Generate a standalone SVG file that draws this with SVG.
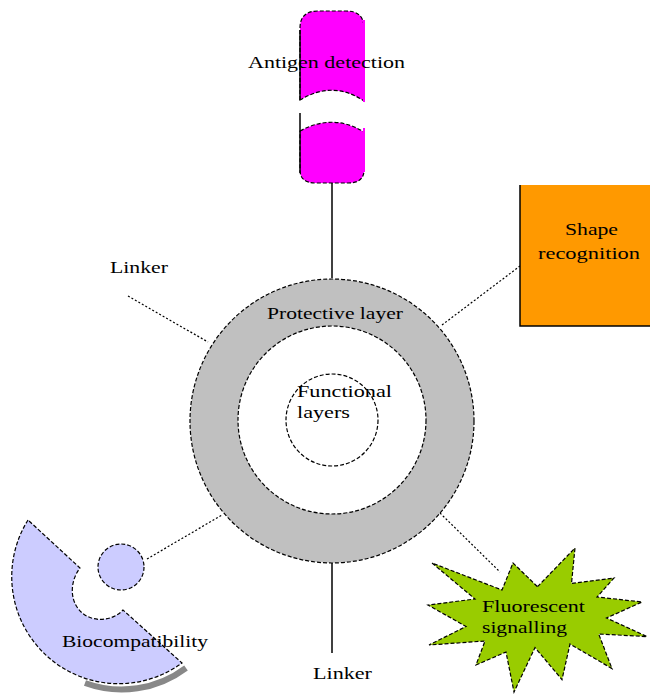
<svg xmlns="http://www.w3.org/2000/svg" width="650" height="694" viewBox="0 0 650 694">
<style>
  text { font-family: "Liberation Serif", "Times New Roman", serif; font-size: 17px; fill: #000; }
  .dash { stroke: #000; stroke-width: 1.2; stroke-dasharray: 4 2; }
  .dot { fill: none; stroke: #000; stroke-width: 1.2; stroke-dasharray: 2 2; }
  .solid { fill: none; stroke: #000; stroke-width: 1.5; }
</style>
<rect width="650" height="694" fill="#fff"/>

<g id="connectors">
  <line class="solid" x1="332" y1="183" x2="332" y2="278"/>
  <line class="solid" x1="332" y1="563" x2="332" y2="653"/>
  <line class="dot" x1="128" y1="296" x2="208" y2="342"/>
  <line class="dot" x1="442" y1="325" x2="520" y2="266"/>
  <line class="dot" x1="147" y1="559" x2="222" y2="515"/>
  <line class="dot" x1="440" y1="513" x2="500" y2="572"/>
</g>

<g id="ring">
  <circle cx="332" cy="421" r="142" fill="#c0c0c0" class="dash"/>
  <circle cx="332" cy="420" r="94" fill="#fff" class="dash"/>
  <text x="267" y="319" textLength="136" lengthAdjust="spacingAndGlyphs">Protective layer</text>
</g>

<g id="functional">
  <circle cx="332" cy="420" r="46" fill="none" class="dash"/>
  <text x="297" y="397" textLength="95" lengthAdjust="spacingAndGlyphs">Functional</text>
  <text x="297" y="418" textLength="53" lengthAdjust="spacingAndGlyphs">layers</text>
</g>

<g id="antigen">
  <path d="M300,100 L300,28 Q300,11 318,11 L346,11 Q364,11 364,28 L364,101 Q333,80 300,100 Z" fill="#ff00ff" class="dash"/>
  <path d="M300,131 Q333,113 364,132 L364,170 Q364,183 348,183 L316,183 Q300,183 300,170 Z" fill="#ff00ff" class="dash"/>
  <rect x="363" y="20" width="2" height="82" fill="#ff00ff"/>
  <rect x="363" y="128" width="2" height="44" fill="#ff00ff"/>
  <line class="solid" x1="300" y1="30" x2="300" y2="100"/>
  <line class="solid" x1="300" y1="113" x2="300" y2="173"/>
  <text x="248" y="68" textLength="157" lengthAdjust="spacingAndGlyphs">Antigen detection</text>
</g>

<g id="shape-recognition">
  <rect x="520" y="185" width="135" height="141" fill="#ff9900"/>
  <path d="M520,185 L520,326 L650,326" class="solid"/>
  <text x="565" y="235" textLength="53" lengthAdjust="spacingAndGlyphs">Shape</text>
  <text x="538" y="259" textLength="102" lengthAdjust="spacingAndGlyphs">recognition</text>
</g>

<g id="linker-top">
  <text x="110" y="273" textLength="58" lengthAdjust="spacingAndGlyphs">Linker</text>
</g>

<g id="linker-bottom">
  <text x="313" y="679" textLength="59" lengthAdjust="spacingAndGlyphs">Linker</text>
</g>

<g id="biocompatibility">
  <path d="M85,683 A107,107 0 0,0 186,668" fill="none" stroke="#888" stroke-width="6"/>
  <path d="M28,520 A107,107 0 0,0 182,663 L123,610 C112,622 88,624 77,607 C69,595 72,578 80,568 Z" fill="#ccccff" class="dash"/>
  <circle cx="121" cy="567" r="23" fill="#ccccff" class="dash"/>
  <text x="62" y="647" textLength="146" lengthAdjust="spacingAndGlyphs">Biocompatibility</text>
</g>

<g id="fluorescent">
  <path d="M537.5,586.7 L575,548 L571.5,583.5 L614,578 L597,597 L642,602 L606.5,618 L647,636.6 L598.7,634 L612,668.6 L570,644 L562,679.6 L535,647.6 L514,692 L506,652 L476,665 L485,641 L429,645 L466,626.5 L428,605 L475,599 L432,563 L502,590 L513,563 Z" fill="#99cc00" class="dash"/>
  <text x="482" y="612" textLength="103" lengthAdjust="spacingAndGlyphs">Fluorescent</text>
  <text x="482" y="633" textLength="85" lengthAdjust="spacingAndGlyphs">signalling</text>
</g>
</svg>
